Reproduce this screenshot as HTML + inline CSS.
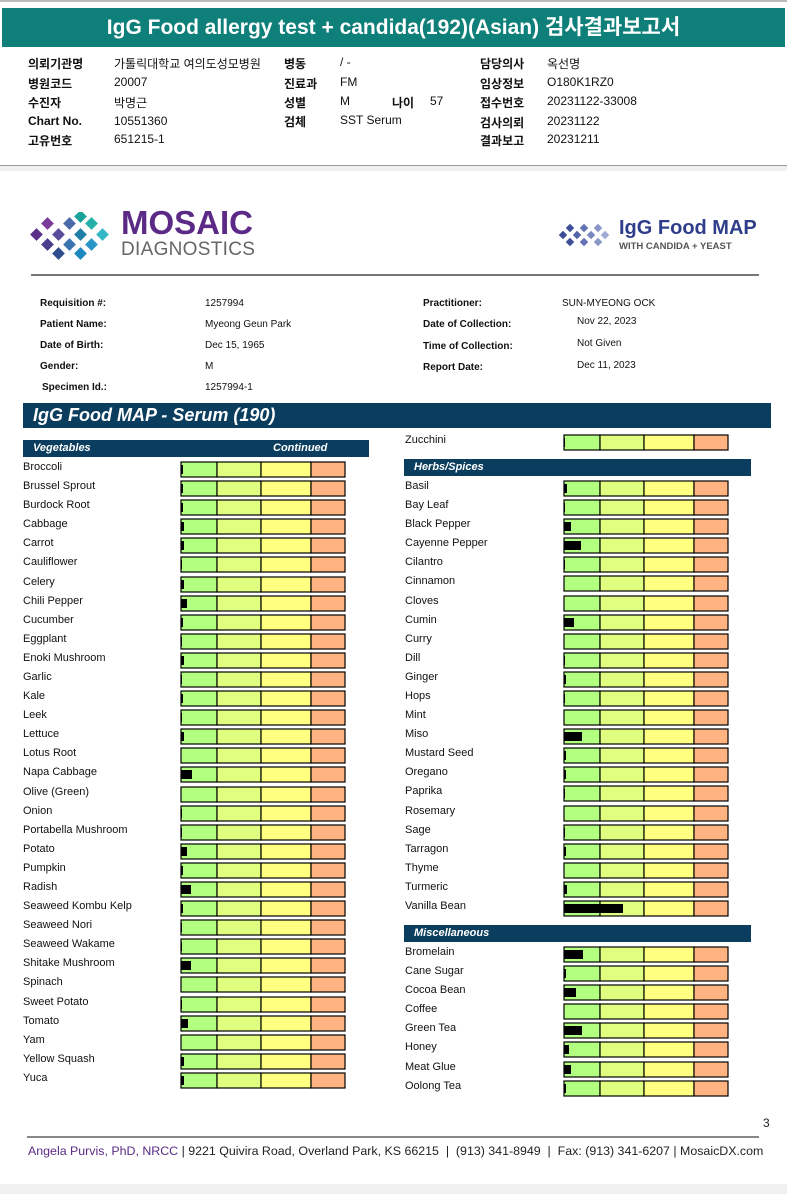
<!DOCTYPE html>
<html><head><meta charset="utf-8">
<style>
body{margin:0;width:787px;height:1194px;position:relative;background:#fff;font-family:"Liberation Sans","Noto Sans CJK KR",sans-serif;overflow:hidden}
.a{position:absolute;white-space:nowrap}
.k{font-family:"Liberation Sans","Noto Sans CJK KR",sans-serif;font-size:12px;color:#111}
.kb{font-weight:bold}
.i{font-size:10px;color:#111}
.ib{font-size:10px;font-weight:bold;color:#111}
.hdr{position:absolute;background:#0b3d5e;color:#fff;font-weight:bold;font-style:italic;font-size:11px}
.lab{position:absolute;font-size:11px;color:#111;white-space:nowrap}
</style></head><body>
<div class="a" style="left:0;top:0;width:787px;height:2px;background:#bbb"></div>
<div class="a" style="left:2px;top:8px;width:783px;height:39px;background:#0f7f79;color:#fff;font-size:21px;font-weight:bold;text-align:center;line-height:39px">IgG Food allergy test + candida(192)(Asian) 검사결과보고서</div>

<div>
<div class="a k kb" style="left:28px;top:55px">의뢰기관명</div><div class="a k" style="left:114px;top:55px">가톨릭대학교 여의도성모병원</div>
<div class="a k kb" style="left:28px;top:75px">병원코드</div><div class="a k" style="left:114px;top:75px">20007</div>
<div class="a k kb" style="left:28px;top:94px">수진자</div><div class="a k" style="left:114px;top:94px">박명근</div>
<div class="a k kb" style="left:28px;top:114px">Chart No.</div><div class="a k" style="left:114px;top:114px">10551360</div>
<div class="a k kb" style="left:28px;top:132px">고유번호</div><div class="a k" style="left:114px;top:132px">651215-1</div>
<div class="a k kb" style="left:284px;top:55px">병동</div><div class="a k" style="left:340px;top:55px">/ -</div>
<div class="a k kb" style="left:284px;top:75px">진료과</div><div class="a k" style="left:340px;top:75px">FM</div>
<div class="a k kb" style="left:284px;top:94px">성별</div><div class="a k" style="left:340px;top:94px">M</div>
<div class="a k kb" style="left:392px;top:94px">나이</div><div class="a k" style="left:430px;top:94px">57</div>
<div class="a k kb" style="left:284px;top:113px">검체</div><div class="a k" style="left:340px;top:113px">SST Serum</div>
<div class="a k kb" style="left:480px;top:55px">담당의사</div><div class="a k" style="left:547px;top:55px">옥선명</div>
<div class="a k kb" style="left:480px;top:75px">임상정보</div><div class="a k" style="left:547px;top:75px">O180K1RZ0</div>
<div class="a k kb" style="left:480px;top:94px">접수번호</div><div class="a k" style="left:547px;top:94px">20231122-33008</div>
<div class="a k kb" style="left:480px;top:114px">검사의뢰</div><div class="a k" style="left:547px;top:114px">20231122</div>
<div class="a k kb" style="left:480px;top:132px">결과보고</div><div class="a k" style="left:547px;top:132px">20231211</div>
</div>
<div class="a" style="left:0;top:165px;width:787px;height:1px;background:#999"></div>
<div class="a" style="left:0;top:166px;width:787px;height:5px;background:#f0f0f0"></div>

<svg class="a" style="left:30px;top:212px" width="82" height="48" viewBox="0 0 82 48">
<g>
<rect x="2" y="18" width="9" height="9" transform="rotate(45 6.5 22.5)" fill="#5b2f8a"/>
<rect x="13" y="7" width="9" height="9" transform="rotate(45 17.5 11.5)" fill="#7a3c9a"/>
<rect x="13" y="28" width="9" height="9" transform="rotate(45 17.5 32.5)" fill="#4c3c8c"/>
<rect x="24" y="18" width="9" height="9" transform="rotate(45 28.5 22.5)" fill="#5a4c9c"/>
<rect x="24" y="37" width="9" height="9" transform="rotate(45 28.5 41.5)" fill="#2e4d8c"/>
<rect x="35" y="7" width="9" height="9" transform="rotate(45 39.5 11.5)" fill="#4a6aa8"/>
<rect x="35" y="28" width="9" height="9" transform="rotate(45 39.5 32.5)" fill="#3a73b0"/>
<rect x="46" y="18" width="9" height="9" transform="rotate(45 50.5 22.5)" fill="#1f7fa6"/>
<rect x="46" y="0" width="9" height="9" transform="rotate(45 50.5 4.5)" fill="#1aa39a"/>
<rect x="46" y="37" width="9" height="9" transform="rotate(45 50.5 41.5)" fill="#1d88c0"/>
<rect x="57" y="7" width="9" height="9" transform="rotate(45 61.5 11.5)" fill="#22b0a8"/>
<rect x="57" y="28" width="9" height="9" transform="rotate(45 61.5 32.5)" fill="#2a96c8"/>
<rect x="68" y="18" width="9" height="9" transform="rotate(45 72.5 22.5)" fill="#34b8c6"/>
</g></svg>
<div class="a" style="left:121px;top:206px;color:#5b2a86;font-size:33px;font-weight:bold;line-height:33px">MOSAIC</div>
<div class="a" style="left:121px;top:239px;color:#666;font-size:19px;line-height:21px;letter-spacing:0.3px">DIAGNOSTICS</div>
<svg class="a" style="left:558px;top:221px" width="54" height="30" viewBox="0 0 54 30">
<g fill="#3b4e96">
<rect x="2" y="11" width="6" height="6" transform="rotate(45 5 14)"/>
<rect x="9" y="4" width="6" height="6" transform="rotate(45 12 7)"/>
<rect x="9" y="18" width="6" height="6" transform="rotate(45 12 21)"/>
<rect x="16" y="11" width="6" height="6" transform="rotate(45 19 14)" fill="#5566aa"/>
<rect x="23" y="4" width="6" height="6" transform="rotate(45 26 7)" fill="#6272b2"/>
<rect x="23" y="18" width="6" height="6" transform="rotate(45 26 21)" fill="#6272b2"/>
<rect x="30" y="11" width="6" height="6" transform="rotate(45 33 14)" fill="#7c88c0"/>
<rect x="37" y="4" width="6" height="6" transform="rotate(45 40 7)" fill="#8a96c8"/>
<rect x="37" y="18" width="6" height="6" transform="rotate(45 40 21)" fill="#8a96c8"/>
<rect x="44" y="11" width="6" height="6" transform="rotate(45 47 14)" fill="#a0aad4"/>
</g></svg>
<div class="a" style="left:619px;top:217px;color:#2f3e8a;font-size:20px;font-weight:bold">IgG Food MAP</div>
<div class="a" style="left:619px;top:241px;color:#555;font-size:9.5px;font-weight:bold">WITH CANDIDA + YEAST</div>
<div class="a" style="left:31px;top:274px;width:728px;height:2px;background:#777"></div>

<div>
<div class="a ib" style="left:40px;top:298px">Requisition #:</div><div class="a i" style="left:205px;top:298px">1257994</div>
<div class="a ib" style="left:40px;top:319px">Patient Name:</div><div class="a i" style="left:205px;top:319px">Myeong Geun Park</div>
<div class="a ib" style="left:40px;top:340px">Date of Birth:</div><div class="a i" style="left:205px;top:340px">Dec 15, 1965</div>
<div class="a ib" style="left:40px;top:361px">Gender:</div><div class="a i" style="left:205px;top:361px">M</div>
<div class="a ib" style="left:42px;top:382px">Specimen Id.:</div><div class="a i" style="left:205px;top:382px">1257994-1</div>
<div class="a ib" style="left:423px;top:298px">Practitioner:</div><div class="a i" style="left:562px;top:298px">SUN-MYEONG OCK</div>
<div class="a ib" style="left:423px;top:319px">Date of Collection:</div><div class="a i" style="left:577px;top:316px">Nov 22, 2023</div>
<div class="a ib" style="left:423px;top:341px">Time of Collection:</div><div class="a i" style="left:577px;top:338px">Not Given</div>
<div class="a ib" style="left:423px;top:362px">Report Date:</div><div class="a i" style="left:577px;top:360px">Dec 11, 2023</div>
</div>

<div class="hdr" style="left:23px;top:403px;width:748px;height:25px;font-size:18px;line-height:25px;padding-left:10px;box-sizing:border-box">IgG Food MAP - Serum (190)</div>

<div id="chart"></div>

<div class="a" style="left:763px;top:1116px;font-size:12px;color:#222">3</div>
<div class="a" style="left:27px;top:1136px;width:732px;height:2px;background:#888"></div>
<div class="a" style="left:28px;top:1144px;font-size:12.4px;color:#222"><span style="color:#5b2a86">Angela Purvis, PhD, NRCC</span> | 9221 Quivira Road, Overland Park, KS 66215 &nbsp;| &nbsp;(913) 341-8949 &nbsp;| &nbsp;Fax: (913) 341-6207 | MosaicDX.com</div>
<div class="a" style="left:0;top:1184px;width:787px;height:10px;background:#f0f0f0"></div>

<script>
const vegNames=["Broccoli","Brussel Sprout","Burdock Root","Cabbage","Carrot","Cauliflower","Celery","Chili Pepper","Cucumber","Eggplant","Enoki Mushroom","Garlic","Kale","Leek","Lettuce","Lotus Root","Napa Cabbage","Olive (Green)","Onion","Portabella Mushroom","Potato","Pumpkin","Radish","Seaweed Kombu Kelp","Seaweed Nori","Seaweed Wakame","Shitake Mushroom","Spinach","Sweet Potato","Tomato","Yam","Yellow Squash","Yuca"];
const vegValues=[2,2,2,3,3,1,3,6,2,1,3,1,2,1,3,0,11,0,1,1,6,2,10,2,1,1,10,0,1,7,0,3,3];
const zucNames=["Zucchini"];
const zucValues=[1];
const herbNames=["Basil","Bay Leaf","Black Pepper","Cayenne Pepper","Cilantro","Cinnamon","Cloves","Cumin","Curry","Dill","Ginger","Hops","Mint","Miso","Mustard Seed","Oregano","Paprika","Rosemary","Sage","Tarragon","Thyme","Turmeric","Vanilla Bean"];
const herbValues=[3,1,7,17,1,0,0,10,0,1,2,1,0,18,2,2,1,0,1,2,0,3,59];
const miscNames=["Bromelain","Cane Sugar","Cocoa Bean","Coffee","Green Tea","Honey","Meat Glue","Oolong Tea"];
const miscValues=[19,2,12,0,18,5,7,2];
const zoneBreaks=[0,36,80,130,164];
const zoneColors=["#b3ff80","#e0ff80","#ffff80","#ffb380"];
const scaleMax=164;
const chart=document.getElementById('chart');
const ROW=19.09, BARW=164, BARH=15;
function xScale(v){return v/scaleMax*BARW;}
function header(x,y,w,text,extra){
  const h=document.createElement('div');
  h.className='hdr';
  h.style.cssText=`left:${x}px;top:${y}px;width:${w}px;height:17px;line-height:17px;padding-left:10px;box-sizing:border-box`;
  h.textContent=text;
  
  
  if(extra){const s=document.createElement('span');s.textContent=extra;s.style.cssText='position:absolute;left:250px';h.appendChild(s);}
  chart.appendChild(h);
}
function rows(names,vals,lx,bx,y0){
  names.forEach((n,i)=>{
    const cy=y0+i*ROW;
    const l=document.createElement('div');
    l.className='lab';l.textContent=n;l.style.left=lx+'px';l.style.top=(cy-7)+'px';
    
    
    chart.appendChild(l);
    const svg=document.createElementNS('http://www.w3.org/2000/svg','svg');
    svg.setAttribute('width',BARW+2);svg.setAttribute('height',BARH+2);
    svg.style.cssText=`position:absolute;left:${bx-1}px;top:${cy-7}px`;
    
    
    for(let z=0;z<4;z++){
      const r=document.createElementNS(svg.namespaceURI,'rect');
      const x0=xScale(zoneBreaks[z]),x1=xScale(zoneBreaks[z+1]);
      r.setAttribute('x',x0+1);r.setAttribute('y',1);r.setAttribute('width',x1-x0);r.setAttribute('height',BARH);
      r.setAttribute('fill',zoneColors[z]);r.setAttribute('stroke','#000');r.setAttribute('stroke-width','1.2');
      
      
      svg.appendChild(r);
    }
    const v=vals[i];
    if(v>0){
      const b=document.createElementNS(svg.namespaceURI,'rect');
      b.setAttribute('x',1);b.setAttribute('y',4);b.setAttribute('width',xScale(v));b.setAttribute('height',BARH-6);b.setAttribute('fill','#000');
      
      
      svg.appendChild(b);
    }
    chart.appendChild(svg);
  });
}
header(23,440,346,'Vegetables','Continued');
rows(vegNames,vegValues,23,181,468);
rows(zucNames,zucValues,405,564,441);
header(404,459,347,'Herbs/Spices');
rows(herbNames,herbValues,405,564,487);
header(404,925,347,'Miscellaneous');
rows(miscNames,miscValues,405,564,953);
</script>
</body></html>
